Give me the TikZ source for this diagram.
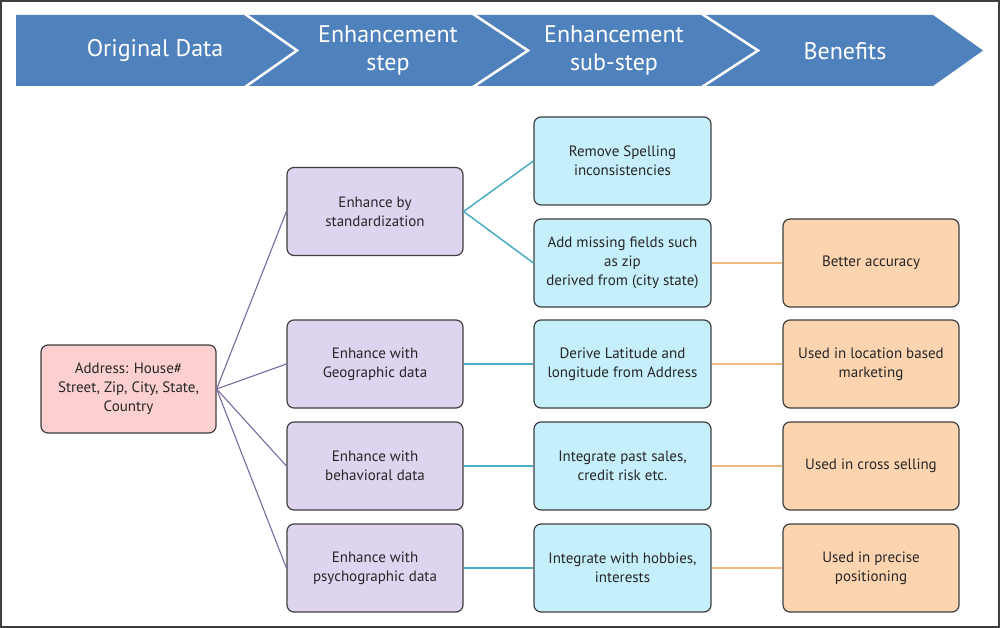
\documentclass[tikz,border=0pt]{standalone}
\usepackage{fontspec}
\setmainfont{PT Sans}
\definecolor{hdr}{HTML}{4F81BD}
\definecolor{pinkf}{HTML}{FCD0D0}
\definecolor{purf}{HTML}{DFD4EF}
\definecolor{bluf}{HTML}{C6EFFC}
\definecolor{oraf}{HTML}{FCD4B0}
\definecolor{bord}{HTML}{3F3F3F}
\definecolor{purl}{HTML}{7A6A9C}
\definecolor{tealc}{HTML}{4BACC6}
\definecolor{oral}{HTML}{F2B984}
\begin{document}
\begin{tikzpicture}[x=1pt,y=-1pt,
  box/.style={draw=bord,line width=1.2pt,rounded corners=7pt,minimum width=176pt,minimum height=88pt,inner sep=0pt,align=center,font=\fontsize{15}{19}\selectfont,text=black!85},
  addr/.style={box,fill=pinkf,minimum width=175pt},
  pur/.style={box,fill=purf},
  blu/.style={box,fill=bluf,minimum width=177pt},
  ora/.style={box,fill=oraf},
  hdrtext/.style={text=white,align=center,font=\fontsize{24}{28}\selectfont},
  pline/.style={draw=purl,line width=1.1pt},
  tline/.style={draw=tealc,line width=1.5pt},
  oline/.style={draw=oral,line width=1.5pt}]
\useasboundingbox (0,0) rectangle (1000,628);
\fill[white] (0,0) rectangle (1000,628);
\draw[bord,line width=2pt] (1,1) rectangle (999,627);
% header
\fill[hdr] (16,15) -- (933,15) -- (983,50.5) -- (933,86) -- (16,86) -- cycle;
\draw[white,line width=2.5pt] (245,14) -- (297,50.5) -- (245,87);
\draw[white,line width=2.5pt] (473,14) -- (528,50.5) -- (473,87);
\draw[white,line width=2.5pt] (702,14) -- (758,50.5) -- (702,87);
\node[hdrtext] (h1) at (155,51) {Original Data};
\node[hdrtext] (h2) at (388,51) {Enhancement\\step};
\node[hdrtext] (h3) at (614,51) {Enhancement\\sub-step};
\node[hdrtext] (h4) at (845,51) {Benefits};
% nodes
\node[addr] (a) at (128.5,389) {Address: House\#\\Street, Zip, City, State,\\Country};
\node[pur] (p1) at (375,211.5) {Enhance by\\standardization};
\node[pur] (p2) at (375,364) {Enhance with\\Geographic data};
\node[pur] (p3) at (375,466) {Enhance with\\behavioral data};
\node[pur] (p4) at (375,568) {Enhance with\\psychographic data};
\node[blu] (b1) at (622.5,161) {Remove Spelling\\inconsistencies};
\node[blu] (b2) at (622.5,263) {Add missing fields such\\as zip\\derived from (city state)};
\node[blu] (b3) at (622.5,364) {Derive Latitude and\\longitude from Address};
\node[blu] (b4) at (622.5,466) {Integrate past sales,\\credit risk etc.};
\node[blu] (b5) at (622.5,568) {Integrate with hobbies,\\interests};
\node[ora] (o2) at (871,263) {Better accuracy};
\node[ora] (o3) at (871,364) {Used in location based\\marketing};
\node[ora] (o4) at (871,466) {Used in cross selling};
\node[ora] (o5) at (871,568) {Used in precise\\positioning};
% connectors
\draw[pline] (a.east) -- (p1.west);
\draw[pline] (a.east) -- (p2.west);
\draw[pline] (a.east) -- (p3.west);
\draw[pline] (a.east) -- (p4.west);
\draw[tline] (p1.east) -- (b1.west);
\draw[tline] (p1.east) -- (b2.west);
\draw[tline] (p2.east) -- (b3.west);
\draw[tline] (p3.east) -- (b4.west);
\draw[tline] (p4.east) -- (b5.west);
\draw[oline] (b2.east) -- (o2.west);
\draw[oline] (b3.east) -- (o3.west);
\draw[oline] (b4.east) -- (o4.west);
\draw[oline] (b5.east) -- (o5.west);
\end{tikzpicture}
\end{document}
